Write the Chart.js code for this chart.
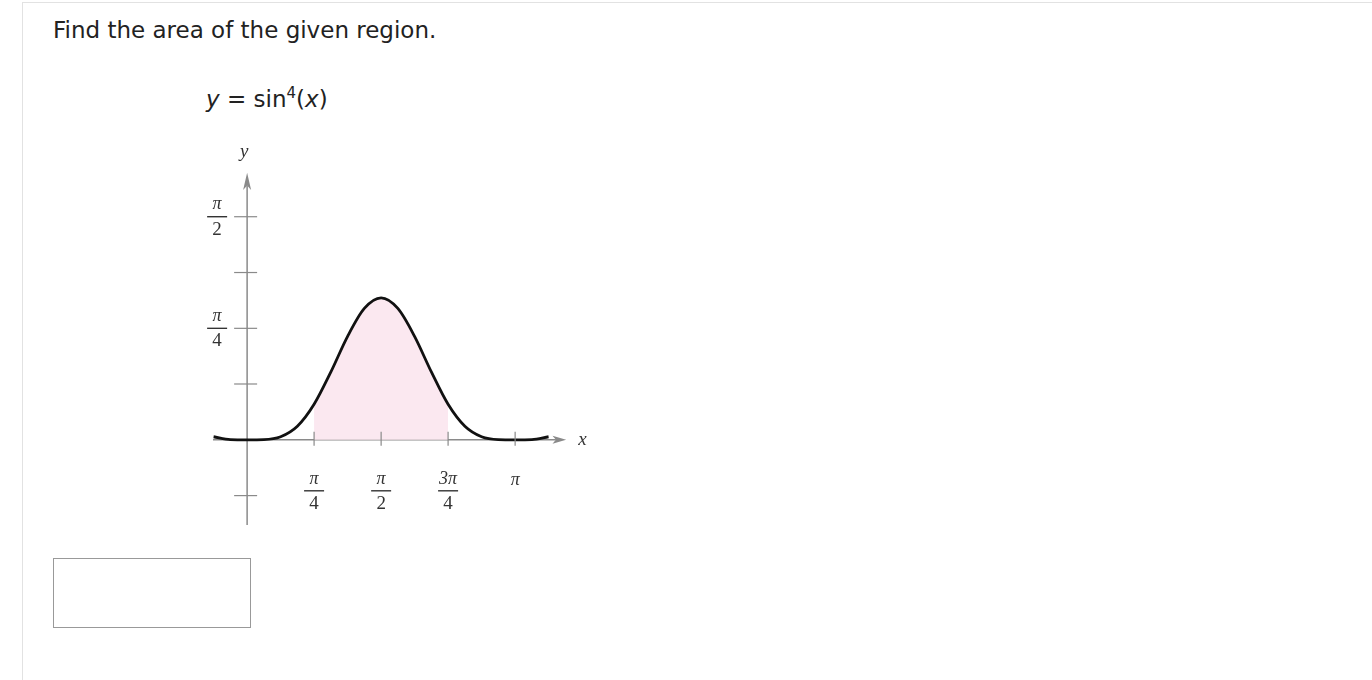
<!DOCTYPE html>
<html><head><meta charset="utf-8">
<script src="https://cdn.jsdelivr.net/npm/chart.js@4/dist/chart.umd.min.js"></script>
<style>
body{margin:0;background:#fff;width:1372px;height:680px;overflow:hidden;position:relative;font-family:"DejaVu Sans",Verdana,sans-serif;color:#222}
#frame{position:absolute;left:22px;top:2px;right:0;bottom:0;border-left:1px solid #e2e2e2;border-top:1px solid #e2e2e2}
#q{position:absolute;left:53px;top:17px;font-size:23px}
#f{position:absolute;left:206px;top:84px;font-size:23px}
#f sup{font-size:15px}
#box{position:absolute;left:53px;top:558px;width:196px;height:68px;border:1px solid #999}
canvas{position:absolute;left:0;top:0}
</style></head><body>
<div id="frame"></div>
<div id="q">Find the area of the given region.</div>
<div id="f"><i>y</i> = sin<sup>4</sup>(<i>x</i>)</div>
<div id="box"></div>
<canvas id="c" width="1372" height="680"></canvas>
<script>
// curve samples at multiples of pi/16
const curveX = [-0.393,-0.196,0,0.196,0.393,0.589,0.785,0.982,1.178,1.374,1.571,1.767,1.963,2.160,2.356,2.553,2.749,2.945,3.142,3.338,3.534];
const curveY = [0.0215,0.0015,0,0.0015,0.0215,0.0953,0.25,0.478,0.7286,0.9253,1,0.9253,0.7286,0.478,0.25,0.0953,0.0215,0.0015,0,0.0015,0.0215];
const shadeFrom = 6, shadeTo = 14; // indices: pi/4 .. 3pi/4
const xTicks = [0.785,1.571,2.356,3.142];
const xTickNum = ['π','π','3π','π'];
const xTickDen = ['4','2','4',''];
const yTicks = [-0.393,0.393,0.785,1.178,1.571];
const yLabelVals = [0.785,1.571];
const yLabelDen = ['4','2'];

const pts = curveX.map((x,i)=>({x, y:curveY[i]}));
const shade = pts.slice(shadeFrom, shadeTo+1);

const axesPlugin = {
  id:'axes',
  beforeDatasetsDraw(chart){
    const {ctx, scales:{x, y}} = chart;
    const X = v=>x.getPixelForValue(v), Y = v=>y.getPixelForValue(v);
    ctx.save();
    ctx.strokeStyle='#8a8a8a'; ctx.fillStyle='#8a8a8a'; ctx.lineWidth=1.5;
    ctx.beginPath(); ctx.moveTo(X(-0.4),Y(0)); ctx.lineTo(X(3.62),Y(0)); ctx.stroke();
    ctx.beginPath(); ctx.moveTo(X(3.74),Y(0)); ctx.lineTo(X(3.58),Y(0)-4); ctx.lineTo(X(3.62),Y(0)); ctx.lineTo(X(3.58),Y(0)+4); ctx.closePath(); ctx.fill();
    ctx.beginPath(); ctx.moveTo(X(0),Y(-0.6)); ctx.lineTo(X(0),Y(1.79)); ctx.stroke();
    ctx.beginPath(); ctx.moveTo(X(0),Y(1.88)); ctx.lineTo(X(0)-4,Y(1.76)); ctx.lineTo(X(0),Y(1.79)); ctx.lineTo(X(0)+4,Y(1.76)); ctx.closePath(); ctx.fill();
    ctx.restore();
  },
  afterDatasetsDraw(chart){
    const {ctx, scales:{x, y}} = chart;
    const X = v=>x.getPixelForValue(v), Y = v=>y.getPixelForValue(v);
    ctx.save();
    ctx.strokeStyle='#8a8a8a'; ctx.lineWidth=1.2;
    xTicks.forEach(v=>{ctx.beginPath();ctx.moveTo(X(v),Y(0)-8);ctx.lineTo(X(v),Y(0)+6);ctx.stroke();});
    yTicks.forEach(v=>{ctx.beginPath();ctx.moveTo(X(0)-13,Y(v));ctx.lineTo(X(0)+10,Y(v));ctx.stroke();});
    ctx.fillStyle='#333'; ctx.strokeStyle='#333'; ctx.lineWidth=1.4;
    ctx.textAlign='center'; ctx.textBaseline='middle';
    const frac=(cx,cy,num,den)=>{
      ctx.font='italic 18px "Liberation Serif", serif';
      if(!den){ctx.fillText(num,cx,cy-11);return;}
      ctx.fillText(num,cx,cy-12);
      ctx.beginPath();ctx.moveTo(cx-10,cy);ctx.lineTo(cx+10,cy);ctx.stroke();
      ctx.font='19px "Liberation Serif", serif';
      ctx.fillText(den,cx,cy+13);
    };
    xTicks.forEach((v,i)=>frac(X(v),Y(0)+51,xTickNum[i],xTickDen[i]));
    yLabelVals.forEach((v,i)=>frac(X(0)-30,Y(v),'π',yLabelDen[i]));
    ctx.font='italic 19px "Liberation Serif", serif';
    ctx.fillText('y',X(0)-3,Y(2.03));
    ctx.fillText('x',X(3.93),Y(0));
    ctx.restore();
  }
};

new Chart(document.getElementById('c'),{
  type:'scatter',
  data:{datasets:[
    {data:shade, order:2, showLine:true, fill:'origin', backgroundColor:'#fbe8f0', borderWidth:0, pointRadius:0, cubicInterpolationMode:'monotone'},
    {data:pts, order:1, showLine:true, fill:false, borderColor:'#111', borderWidth:2.8, pointRadius:0, cubicInterpolationMode:'monotone'}
  ]},
  options:{
    responsive:false, animation:false,
    layout:{padding:{left:213,top:170,right:805,bottom:155}},
    scales:{
      x:{type:'linear',min:-0.4,max:3.75,display:false},
      y:{type:'linear',min:-0.6,max:1.9,display:false}
    },
    plugins:{legend:{display:false},tooltip:{enabled:false}}
  },
  plugins:[axesPlugin]
});
</script>
</body></html>
